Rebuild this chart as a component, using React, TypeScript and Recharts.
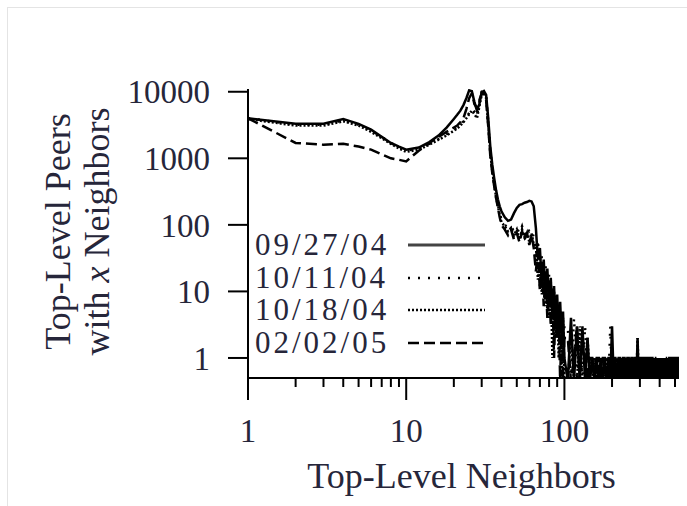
import React from 'react';
import { LineChart, Line, XAxis, YAxis, Legend } from 'recharts';

// top-level neighbor counts (shared x values)
const neighbors = [
  1, 2, 3, 4, 5, 6, 7, 8, 9, 10,
  12, 14, 16, 18, 20,
  21, 22, 23, 24, 25, 26, 27, 28, 29, 30, 31, 32, 33, 34, 35, 36, 37, 38, 39, 40,
  42, 44, 46, 48, 50, 52, 54, 56, 58, 60, 62, 64,
  66, 68, 70, 72, 74, 76, 78, 80, 82, 84, 86, 88, 90, 92, 94, 96, 98, 100,
  105, 110, 115, 120, 125, 130, 135, 140, 145, 150,
  155, 160, 165, 170, 175, 180, 185, 190, 195, 200,
  205, 210, 215, 220, 225, 230, 235, 240, 245, 250,
  255, 260, 265, 270, 275, 280, 285, 290, 295, 300,
  305, 310, 315, 320, 325, 330, 335, 340, 345, 350,
  355, 360, 365, 370, 375, 380, 385, 390, 395, 400,
  405, 410, 415, 420, 425, 430, 435, 440, 445, 450,
  455, 460, 465, 470, 475, 480, 485, 490, 495, 500,
  505, 510, 515, 520, 525, 530,
];

// 0.45 = just below the visible range (count of zero, clipped at the bottom axis)
const sep27 = [
  4000, 3300, 3300, 3900, 3300, 2700, 2100, 1700, 1500, 1350,
  1450, 1750, 2200, 2900, 3900,
  4500, 5200, 6300, 8000, 10500, 10200, 7000, 5200, 6500, 9800, 10300, 9000, 4000, 1500, 800, 500, 330, 240, 190, 160,
  130, 115, 120, 150, 180, 200, 205, 215, 220, 230, 225, 190,
  90, 30, 45, 12, 30, 8, 22, 6, 16, 4, 12, 3, 9, 2, 7, 2, 5, 1,
  0.45, 4, 0.45, 3, 0.45, 3, 0.45, 2, 0.45, 1,
  0.45, 1, 0.45, 1, 0.45, 1, 0.45, 1, 0.45, 3,
  0.45, 1, 0.45, 1, 0.45, 1, 0.45, 1, 0.45, 1,
  0.45, 1, 0.45, 1, 0.45, 1, 0.45, 2, 0.45, 1,
  0.45, 1, 0.45, 1, 0.45, 1, 0.45, 1, 0.45, 1,
  0.45, 1, 0.45, 1, 0.45, 1, 0.45, 1, 0.45, 1,
  0.45, 1, 0.45, 1, 0.45, 1, 0.45, 1, 0.45, 1,
  0.45, 1, 0.45, 1, 0.45, 1, 0.45, 1, 0.45, 1,
  0.45, 1, 0.45, 1, 0.45, 1,
];

const oct11 = [
  4000, 3200, 3200, 3700, 3200, 2600, 2100, 1700, 1450, 1300,
  1400, 1650, 1950, 2300, 2700,
  2900, 3200, 3600, 4100, 4800, 5600, 5000, 4300, 7000, 10000, 10200, 8500, 3500, 1300, 700, 420, 280, 200, 150, 120,
  100, 90, 95, 80, 90, 75, 95, 70, 90, 80, 85, 65,
  30, 60, 12, 35, 8, 25, 5, 18, 4, 12, 2, 9, 2, 6, 1, 4, 1, 3,
  3, 0.45, 4, 0.45, 2, 0.45, 3, 0.45, 1, 0.45,
  1, 0.45, 1, 0.45, 1, 0.45, 1, 0.45, 3, 0.45,
  1, 0.45, 1, 0.45, 1, 0.45, 1, 0.45, 1, 0.45,
  1, 0.45, 1, 0.45, 1, 0.45, 1, 0.45, 1, 0.45,
  1, 0.45, 1, 0.45, 1, 0.45, 1, 0.45, 1, 0.45,
  1, 0.45, 1, 0.45, 1, 0.45, 1, 0.45, 1, 0.45,
  1, 0.45, 1, 0.45, 1, 0.45, 1, 0.45, 1, 0.45,
  1, 0.45, 1, 0.45, 1, 0.45, 1, 0.45, 1, 0.45,
  1, 0.45, 1, 0.45, 1, 0.45,
];

const oct18 = [
  3900, 3100, 3100, 3600, 3100, 2500, 2000, 1650, 1400, 1250,
  1350, 1600, 1900, 2200, 2600,
  2800, 3100, 3500, 4000, 4600, 5200, 4600, 4000, 6000, 9000, 9800, 8000, 3200, 1200, 650, 400, 260, 190, 140, 110,
  95, 80, 90, 70, 85, 60, 85, 65, 80, 55, 75, 50,
  50, 15, 35, 9, 24, 6, 18, 4, 14, 1, 10, 2, 7, 1, 5, 0.45, 4, 0.45,
  0.45, 2, 0.45, 0.45, 3, 0.45, 0.45, 2, 0.45, 0.45,
  1, 0.45, 0.45, 1, 0.45, 0.45, 1, 0.45, 0.45, 1,
  0.45, 0.45, 1, 0.45, 0.45, 1, 0.45, 0.45, 1, 0.45,
  0.45, 1, 0.45, 0.45, 1, 0.45, 0.45, 2, 0.45, 0.45,
  1, 0.45, 0.45, 1, 0.45, 0.45, 1, 0.45, 0.45, 1,
  0.45, 0.45, 1, 0.45, 0.45, 1, 0.45, 0.45, 1, 0.45,
  0.45, 1, 0.45, 0.45, 1, 0.45, 0.45, 1, 0.45, 0.45,
  1, 0.45, 0.45, 1, 0.45, 0.45, 1, 0.45, 0.45, 1,
  0.45, 0.45, 1, 0.45, 0.45, 1,
];

const feb02 = [
  4000, 1700, 1600, 1650, 1500, 1350, 1150, 1000, 950, 900,
  1300, 1700, 2100, 2500, 2900,
  3100, 3500, 4000, 5500, 8000, 9500, 6500, 5800, 7500, 9500, 9000, 7500, 3000, 1100, 600, 380, 250, 180, 130, 100,
  85, 70, 85, 60, 75, 55, 80, 60, 75, 50, 70, 45,
  20, 40, 10, 28, 6, 20, 4, 15, 3, 10, 1, 7, 2, 5, 0.45, 4, 0.45, 2,
  2, 0.45, 1, 3, 0.45, 2, 1, 0.45, 1, 1,
  0.45, 1, 1, 0.45, 1, 1, 0.45, 1, 1, 0.45,
  1, 1, 0.45, 1, 1, 0.45, 1, 1, 0.45, 1,
  1, 0.45, 1, 1, 0.45, 1, 1, 0.45, 1, 1,
  0.45, 1, 1, 0.45, 1, 1, 0.45, 1, 1, 0.45,
  1, 1, 0.45, 1, 1, 0.45, 1, 1, 0.45, 1,
  1, 0.45, 1, 1, 0.45, 1, 1, 0.45, 1, 1,
  0.45, 1, 1, 0.45, 1, 1, 0.45, 1, 1, 0.45,
  1, 1, 0.45, 1, 1, 0.45,
];

const seriesNames = ['09/27/04', '10/11/04', '10/18/04', '02/02/05'];
const seriesKeys = ['sep27', 'oct11', 'oct18', 'feb02'];
const seriesDash = ['', '2 8', '2 2', '11 5'];

const xTicks = [1, 2, 3, 4, 5, 6, 7, 8, 9, 10, 20, 30, 40, 50, 60, 70, 80, 90, 100, 200, 300, 400, 500];
const xLabeled = [1, 10, 100];
const yTicks = [1, 10, 100, 1000, 10000];

const data = neighbors.map((x, i) => ({
  x,
  sep27: sep27[i],
  oct11: oct11[i],
  oct18: oct18[i],
  feb02: feb02[i],
}));

const FONT = '"Liberation Serif", "Times New Roman", serif';
const INK = '#26263a';

function XTick(props: any) {
  const { x, y, payload } = props;
  const major = xLabeled.includes(payload.value);
  return (
    <g>
      <line x1={x} x2={x} y1={y} y2={y + (major ? 22 : 9)} stroke="#000" strokeWidth={2} />
      {major && (
        <text x={x} y={y + 64} textAnchor="middle" fontFamily={FONT} fontSize={33} fill={INK}>
          {payload.value}
        </text>
      )}
    </g>
  );
}

function yTitle(props: any) {
  const { x, y, height } = props.viewBox;
  const cy = y + height / 2 - 2;
  const c1 = x - 90;
  const c2 = x - 51;
  return (
    <g fontFamily={FONT} fontSize={36} fill={INK}>
      <text x={c1} y={cy} textAnchor="middle" dominantBaseline="central" transform={`rotate(-90, ${c1}, ${cy})`}>
        Top-Level Peers
      </text>
      <text x={c2} y={cy} textAnchor="middle" dominantBaseline="central" transform={`rotate(-90, ${c2}, ${cy})`}>
        with <tspan fontStyle="italic">x</tspan> Neighbors
      </text>
    </g>
  );
}

function xTitle(props: any) {
  const { x, y, width } = props.viewBox;
  return (
    <text x={x + width / 2 - 2} y={y + 110} textAnchor="middle" fontFamily={FONT} fontSize={36} fill={INK}>
      Top-Level Neighbors
    </text>
  );
}

function LegendBox() {
  return (
    <div style={{ fontFamily: FONT, color: INK }}>
      {seriesNames.map((name, i) => (
        <div key={name} style={{ display: 'flex', alignItems: 'center', height: 32.5 }}>
          <span style={{ fontSize: 31, letterSpacing: 3, width: 153, lineHeight: '32px' }}>{name}</span>
          <svg width={80} height={10}>
            <line
              x1={0}
              y1={5}
              x2={77}
              y2={5}
              stroke={i === 0 ? '#444' : '#000'}
              strokeWidth={i === 0 ? 3 : 2.5}
              strokeDasharray={seriesDash[i] || undefined}
            />
          </svg>
        </div>
      ))}
    </div>
  );
}

export default function App() {
  return (
    <div style={{ position: 'absolute', left: 0, top: 0, width: 687, height: 506, background: '#fff' }}>
      <div
        style={{
          position: 'absolute',
          left: 7,
          top: 7,
          width: 680,
          height: 499,
          borderTop: '1px solid #e4e4e4',
          borderLeft: '1px solid #e4e4e4',
        }}
      />
      <LineChart width={687} height={506} data={data} margin={{ top: 89, right: 8, bottom: 68, left: 148 }}>
        <XAxis
          dataKey="x"
          type="number"
          scale="log"
          domain={[1, 530]}
          allowDataOverflow
          ticks={xTicks}
          interval={0}
          tickLine={false}
          tickSize={0}
          tickMargin={0}
          tick={<XTick />}
          height={60}
          axisLine={{ stroke: '#000', strokeWidth: 2 }}
          label={xTitle}
        />
        <YAxis
          type="number"
          scale="log"
          domain={[0.5, 11000]}
          allowDataOverflow
          ticks={yTicks}
          interval={0}
          width={100}
          tickSize={20}
          tickMargin={18}
          tick={{ fontFamily: FONT, fontSize: 33, fill: INK }}
          tickLine={{ stroke: '#000', strokeWidth: 2 }}
          axisLine={{ stroke: '#000', strokeWidth: 2 }}
          label={yTitle}
        />
        <Legend
          layout="vertical"
          align="center"
          verticalAlign="middle"
          content={<LegendBox />}
          wrapperStyle={{ left: 255, top: 229, width: 250 }}
        />
        {seriesKeys.map((k, i) => (
          <Line
            key={k}
            dataKey={k}
            name={seriesNames[i]}
            stroke="#000"
            strokeWidth={2.5}
            strokeDasharray={seriesDash[i] || undefined}
            dot={false}
            type="linear"
            isAnimationActive={false}
          />
        ))}
      </LineChart>
    </div>
  );
}
